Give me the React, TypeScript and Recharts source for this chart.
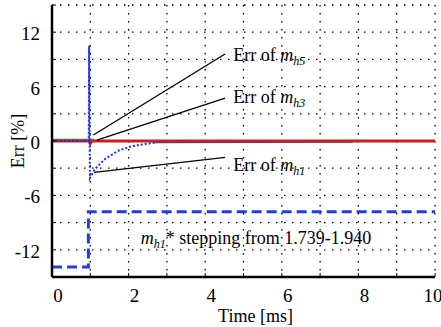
import React from "react";
import {
  ComposedChart,
  Line,
  XAxis,
  YAxis,
  CartesianGrid,
  ReferenceLine,
  ReferenceDot,
} from "recharts";

const SERIF = "Liberation Serif, DejaVu Serif, serif";
const txt = { fontFamily: SERIF, fill: "#000" };

// axis ticks
const xTicks = [0, 1, 2, 3, 4, 5, 6, 7, 8, 9, 10];
const xLabelled = [0, 2, 4, 6, 8, 10];
const yTicks = [-15, -12, -9, -6, -3, 0, 3, 6, 9, 12, 15];
const yLabelled = [-12, -6, 0, 6, 12];

// red: total error
const redT = [0, 0.98, 1.0, 1.04, 10];
const redV = [0, 0, -0.3, 0, 0];

// green: short segment before the step
const greenT = [0, 1.1];
const greenV = [0.12, 0.12];

// blue dotted: transient of m_h1 error
const dotT = [0, 0.96, 0.97, 0.99, 1.12, 1.38, 1.73, 2.08, 2.43, 2.69];
const dotV = [0, 0, 10.5, -4.1, -3.1, -2.0, -1.07, -0.58, -0.33, -0.17];

// thin blue after the transient
const settleT = [2.69, 7.86];
const settleV = [-0.17, -0.12];

// blue dashed: m_h1* step
const stepT = [0, 0.95, 0.95, 10];
const stepV = [-13.9, -13.9, -7.8, -7.8];

// annotation pointer lines [t0, v0, t1, v1]
const pointers = [
  [1.08, 0.66, 4.52, 9.6],
  [1.17, 0.1, 4.52, 4.74],
  [1.1, -3.45, 4.52, -1.8],
];

// annotation labels
const labelSub = ["h5", "h3", "h1"];
const labelT = [4.73, 4.73, 4.73];
const labelV = [8.84, 4.2, -3.27];
const noteT = 2.32;
const noteV = -11.35;
const noteText = "* stepping from 1.739-1.940";

const zip = (ts: number[], vs: number[]) => ts.map((t, i) => ({ t, v: vs[i] }));

const frame = { stroke: "#000", strokeWidth: 2.5 };
const inTick = { stroke: "#000", strokeWidth: 1 };
const NoLabel = () => <g />;

function XTick(props: any) {
  const { x, y, payload } = props;
  if (!xLabelled.includes(payload.value)) return null;
  const dx = payload.value === 10 ? -2 : 6;
  return (
    <text x={x + dx} y={y} dy={14} textAnchor="middle" fontSize={19} style={txt}>
      {payload.value}
    </text>
  );
}

function YTick(props: any) {
  const { x, y, payload } = props;
  if (!yLabelled.includes(payload.value)) return null;
  return (
    <text x={x} y={y} dy={8} textAnchor="end" fontSize={19} style={txt}>
      {payload.value}
    </text>
  );
}

function XTitle(props: any) {
  const { viewBox } = props;
  if (!viewBox) return null;
  return (
    <text x={viewBox.x + viewBox.width / 2 + 12} y={viewBox.y + 45} textAnchor="middle" fontSize={18} style={txt}>
      Time [ms]
    </text>
  );
}

function YTitle(props: any) {
  const { viewBox } = props;
  if (!viewBox) return null;
  const cx = viewBox.x + 18;
  const cy = viewBox.y + viewBox.height / 2;
  return (
    <text x={cx} y={cy} transform={`rotate(-90 ${cx} ${cy})`} dy={6} textAnchor="middle" fontSize={18} style={txt}>
      Err [%]
    </text>
  );
}

function ErrLabel(sub: string) {
  return (props: any) => (
    <text x={props.cx} y={props.cy} fontSize={18} style={txt}>
      Err of{" "}
      <tspan fontStyle="italic">m</tspan>
      <tspan fontStyle="italic" fontSize={12} dy={4}>
        {sub}
      </tspan>
    </text>
  );
}

function NoteLabel(props: any) {
  return (
    <text x={props.cx} y={props.cy} fontSize={18} style={txt}>
      <tspan fontStyle="italic">m</tspan>
      <tspan fontStyle="italic" fontSize={12} dy={4}>
        h1
      </tspan>
      <tspan dy={-4}>{noteText}</tspan>
    </text>
  );
}

export default function App() {
  return (
    <div style={{ position: "absolute", left: 0, top: 0, background: "#fff" }}>
      <ComposedChart width={441} height={327} margin={{ top: 5, right: 6, left: 0, bottom: 0 }}>
        <CartesianGrid stroke="#000" strokeWidth={1.3} strokeDasharray="1.5 6.5" />
        <XAxis
          type="number"
          dataKey="t"
          domain={[0, 10]}
          ticks={xTicks}
          interval={0}
          height={50}
          tickSize={-4}
          tickMargin={15}
          tickLine={inTick}
          axisLine={frame}
          tick={<XTick />}
          label={<XTitle />}
          allowDataOverflow
        />
        <XAxis
          xAxisId="top"
          orientation="top"
          type="number"
          domain={[0, 10]}
          ticks={xTicks}
          interval={0}
          height={0}
          tickSize={-4}
          tickLine={inTick}
          tick={<NoLabel />}
          axisLine={frame}
        />
        <YAxis
          type="number"
          domain={[-15, 15]}
          ticks={yTicks}
          interval={0}
          width={52}
          tickSize={-4}
          tickMargin={16}
          tickLine={inTick}
          axisLine={frame}
          tick={<YTick />}
          label={<YTitle />}
          allowDataOverflow
        />
        <YAxis
          yAxisId="right"
          orientation="right"
          type="number"
          domain={[-15, 15]}
          ticks={yTicks}
          interval={0}
          width={0}
          tickSize={-4}
          tickLine={inTick}
          tick={<NoLabel />}
          axisLine={frame}
        />

        <Line data={zip(stepT, stepV)} dataKey="v" stroke="#1f3de6" strokeWidth={3} strokeDasharray="10 5" dot={false} isAnimationActive={false} />
        <Line data={zip(settleT, settleV)} dataKey="v" stroke="#3030f0" strokeWidth={1.5} dot={false} isAnimationActive={false} />
        <Line data={zip(greenT, greenV)} dataKey="v" stroke="#2ea02e" strokeWidth={2.5} dot={false} isAnimationActive={false} />
        <Line data={zip(redT, redV)} dataKey="v" stroke="#c8201c" strokeWidth={3} dot={false} isAnimationActive={false} />
        <Line data={zip(dotT, dotV)} dataKey="v" stroke="#1a2cff" strokeWidth={2} strokeDasharray="2 2" dot={false} isAnimationActive={false} />

        {pointers.map((p, i) => (
          <ReferenceLine
            key={i}
            segment={[
              { x: p[0], y: p[1] },
              { x: p[2], y: p[3] },
            ]}
            stroke="#000"
            strokeWidth={1.3}
          />
        ))}
        {labelSub.map((s, i) => (
          <ReferenceDot key={s} x={labelT[i]} y={labelV[i]} r={0} shape={ErrLabel(s)} />
        ))}
        <ReferenceDot x={noteT} y={noteV} r={0} shape={NoteLabel} />
      </ComposedChart>
    </div>
  );
}
